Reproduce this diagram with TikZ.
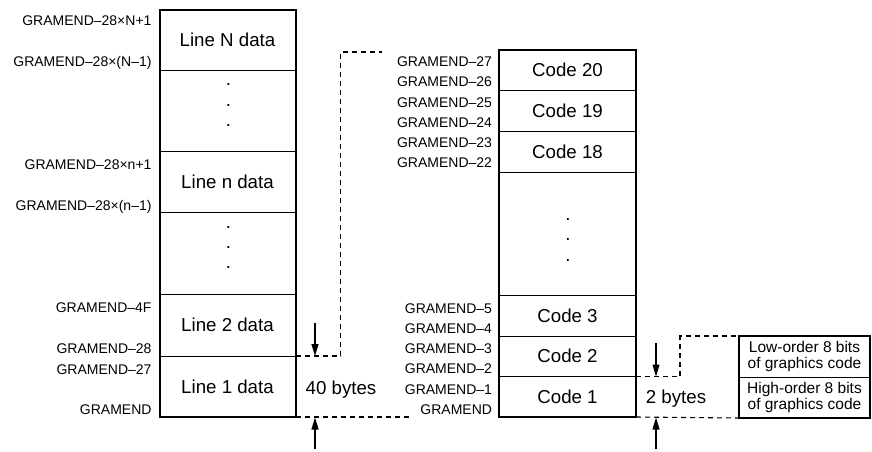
\documentclass[tikz,border=0pt]{standalone}
\usepackage{fontspec}
\setmainfont{Liberation Sans}
\usetikzlibrary{arrows.meta}
\begin{document}
\begin{tikzpicture}[x=1pt,y=-1pt,
  lab/.style={inner sep=0pt, outer sep=0pt, font=\fontsize{14}{16}\selectfont, anchor=base east},
  cell/.style={draw, line width=1pt, inner sep=0pt, outer sep=0pt, font=\fontsize{18.7}{22}\selectfont},
  lcell/.style={cell, minimum width=136pt},
  rcell/.style={cell, minimum width=137pt},
  bcell/.style={cell, minimum width=131pt, align=center, font=\fontsize{15.5}{16}\selectfont},
  frame/.style={draw, line width=2pt},
  dashline/.style={draw, line width=1.1pt, dash pattern=on 5pt off 4pt},
  arr/.style={draw, line width=1.1pt, -{Triangle[length=12pt,width=7pt]}},
  dotn/.style={inner sep=0pt, outer sep=0pt, font=\fontsize{18.7}{22}\selectfont},
  big/.style={inner sep=0pt, font=\fontsize{18.7}{22}\selectfont}
]
\useasboundingbox (0,0) rectangle (872,451);

% left column
\node[lcell, minimum height=60pt]   (lN)  at (227.5,40)     {Line N data};
\node[lcell, minimum height=81.5pt] (ld1) at (227.5,110.75) {};
\node[lcell, minimum height=61pt]   (ln)  at (227.5,182)    {Line n data};
\node[lcell, minimum height=82pt]   (ld2) at (227.5,253.5)  {};
\node[lcell, minimum height=61.5pt] (l2)  at (227.5,325.25) {Line 2 data};
\node[lcell, minimum height=61pt]   (l1)  at (227.5,386.5)  {Line 1 data};
\draw[frame] (lN.north west) rectangle (l1.south east);
\foreach \y [count=\i] in {84,105,125} \node[dotn] (lda\i) at (228.5,\y) {.};
\foreach \y [count=\i] in {227,247,267} \node[dotn] (ldb\i) at (228.5,\y) {.};

% left labels
\node[lab] (la1) at (151.5,25)    {GRAMEND–28×N+1};
\node[lab] (la2) at (151.5,66)    {GRAMEND–28×(N–1)};
\node[lab] (la3) at (151.5,169.3) {GRAMEND–28×n+1};
\node[lab] (la4) at (151.5,210)   {GRAMEND–28×(n–1)};
\node[lab] (la5) at (151.5,312.7) {GRAMEND–4F};
\node[lab] (la6) at (151.5,353)   {GRAMEND–28};
\node[lab] (la7) at (151.5,374)   {GRAMEND–27};
\node[lab] (la8) at (151.5,414)   {GRAMEND};

% right column
\node[rcell, minimum height=40.5pt]  (c20) at (567.5,70.25)  {Code 20};
\node[rcell, minimum height=41pt]    (c19) at (567.5,111)    {Code 19};
\node[rcell, minimum height=41pt]    (c18) at (567.5,152)    {Code 18};
\node[rcell, minimum height=122.5pt] (cd)  at (567.5,233.75) {};
\node[rcell, minimum height=41pt]    (c3)  at (567.5,315.5)  {Code 3};
\node[rcell, minimum height=40.5pt]  (c2)  at (567.5,356.25) {Code 2};
\node[rcell, minimum height=40.5pt]  (c1)  at (567.5,396.75) {Code 1};
\draw[frame] (c20.north west) rectangle (c1.south east);
\foreach \y [count=\i] in {219,239,260} \node[dotn] (cda\i) at (568,\y) {.};

% right labels
\node[lab] (ra1) at (492,66)    {GRAMEND–27};
\node[lab] (ra2) at (492,86)    {GRAMEND–26};
\node[lab] (ra3) at (492,107)   {GRAMEND–25};
\node[lab] (ra4) at (492,127.5) {GRAMEND–24};
\node[lab] (ra5) at (492,147.5) {GRAMEND–23};
\node[lab] (ra6) at (492,167.5) {GRAMEND–22};
\node[lab] (ra7) at (492,313)   {GRAMEND–5};
\node[lab] (ra8) at (492,333)   {GRAMEND–4};
\node[lab] (ra9) at (492,353)   {GRAMEND–3};
\node[lab] (ra10) at (492,373)  {GRAMEND–2};
\node[lab] (ra11) at (492,394)  {GRAMEND–1};
\node[lab] (ra12) at (492,414)  {GRAMEND};

% byte box
\node[bcell, minimum height=41pt] (lo) at (804.5,356.5) {Low-order 8 bits\\of graphics code};
\node[bcell, minimum height=41pt] (hi) at (804.5,397.5) {High-order 8 bits\\of graphics code};
\draw[frame] (lo.north west) rectangle (hi.south east);

% dashed connectors
\coordinate (t1) at (340.5,356);
\coordinate (t2) at (340.5,52);
\coordinate (t3) at (382,52);
\draw[dashline] (l1.north east) -- (t1) -- (t2) -- (t3);
\coordinate (b1) at (412,417);
\draw[dashline] (l1.south east) -- (b1);
\coordinate (r1) at (680,376.5);
\draw[dashline] (c1.north east) -- (r1) |- (lo.north west);
\draw[dashline] (c1.south east) -- (hi.south west);

% arrows
\coordinate (a1s) at (315,323);
\coordinate (a1e) at (315,356);
\coordinate (a2s) at (315,449);
\coordinate (a2e) at (315,417.5);
\coordinate (a3s) at (656,343);
\coordinate (a3e) at (656,376.5);
\coordinate (a4s) at (656,449);
\coordinate (a4e) at (656,417.5);
\draw[arr] (a1s) -- (a1e);
\draw[arr] (a2s) -- (a2e);
\draw[arr] (a3s) -- (a3e);
\draw[arr] (a4s) -- (a4e);

% byte counts
\node[big] (w40) at (341,389.5) {40 bytes};
\node[big] (w2)  at (676,398.5) {2 bytes};
\end{tikzpicture}
\end{document}
